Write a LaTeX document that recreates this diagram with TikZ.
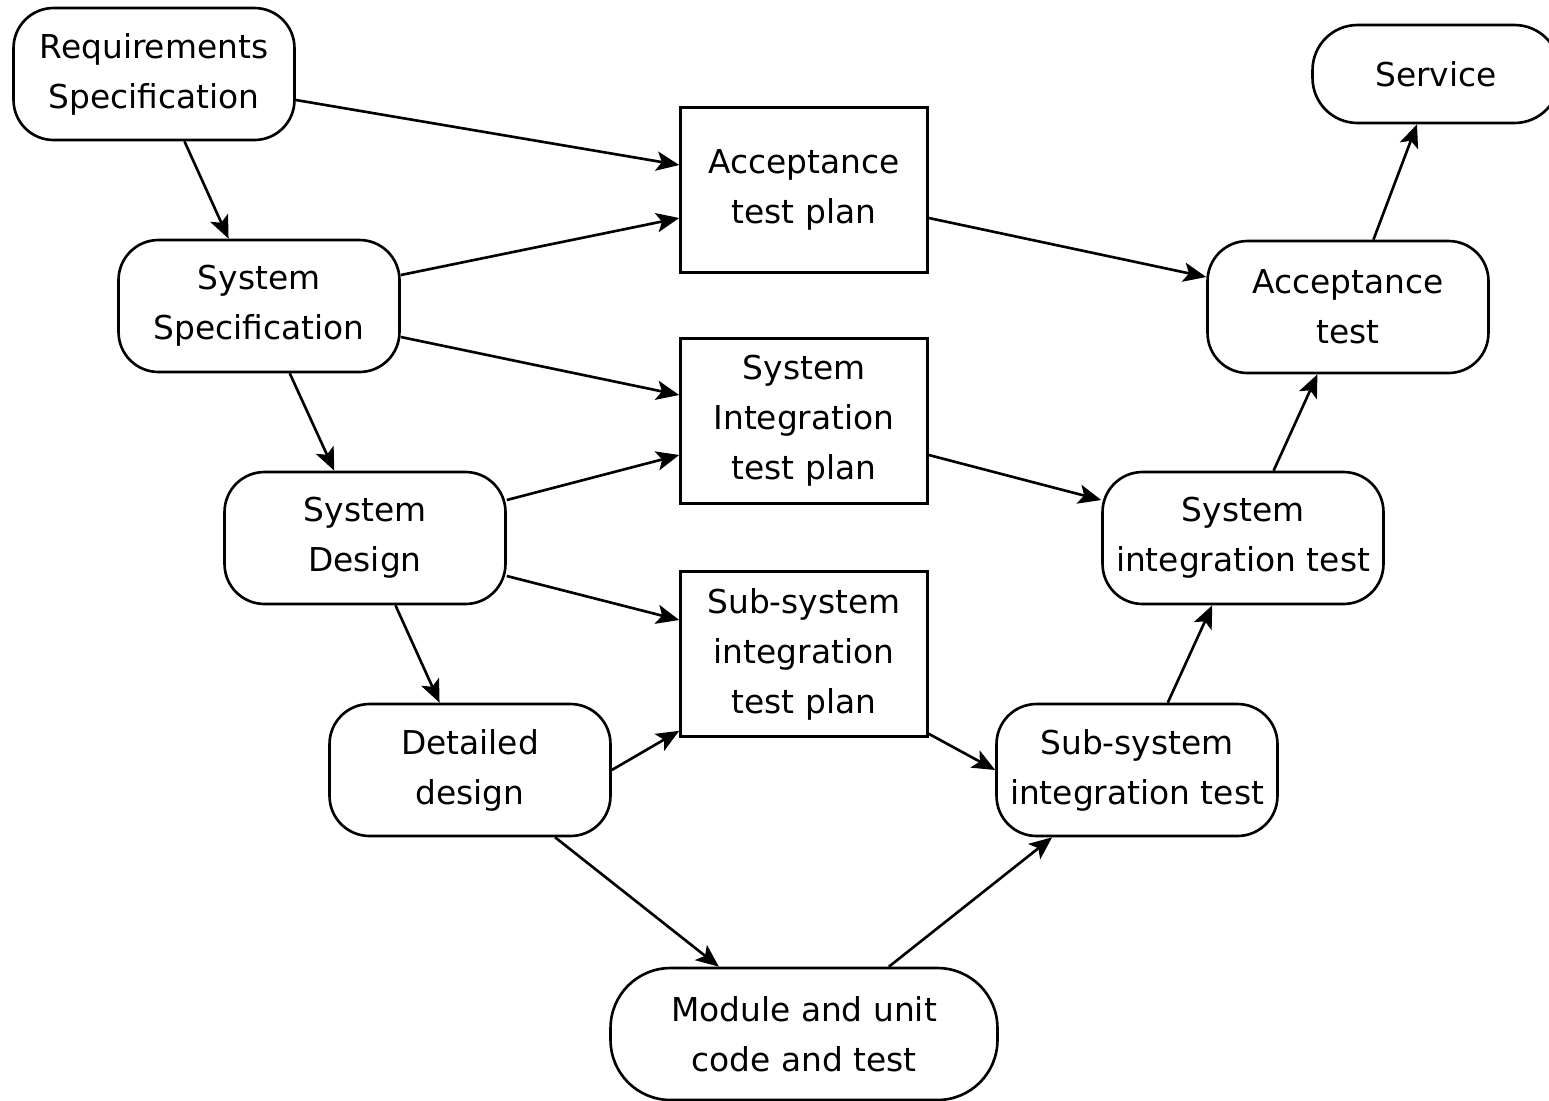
\documentclass[tikz,border=0pt]{standalone}
\usepackage{fontspec}
\setmainfont{DejaVu Sans}
\usepackage{tikz}
\usetikzlibrary{arrows.meta}
\tikzstyle{stage} = [rectangle, rounded corners=0.8cm, minimum width=5.62cm, minimum height=2.64cm, align=center, draw=black, line width=1.5pt, font=\fontsize{18.7}{28.5}\selectfont]
\tikzstyle{plan} = [rectangle, minimum width=4.94cm, minimum height=3.3cm, align=center, draw=black, line width=1.5pt, font=\fontsize{18.7}{28.5}\selectfont]
\tikzstyle{arrow} = [line width=1.5pt,-{Stealth[length=13pt,width=11pt,inset=3pt]}]

\begin{document}
\begin{tikzpicture}[x=0.02cm,y=-0.02cm]
\useasboundingbox (0,0) rectangle (1549,1100);
\node (reqspec) [stage] at (154,74) {Requirements\\Specification};
\node (sysspec) [stage] at (259,306) {System\\Specification};
\node (sysdesign) [stage] at (365,538) {System\\Design};
\node (detdesign) [stage] at (470,770) {Detailed\\design};
\node (module) [stage, minimum width=7.74cm, rounded corners=1.2cm] at (804,1034) {Module and unit\\code and test};
\node (subtest) [stage] at (1137,770) {Sub-system\\integration test};
\node (systest) [stage] at (1243,538) {System\\integration test};
\node (acctest) [stage] at (1348,307) {Acceptance\\test};
\node (service) [stage, minimum width=4.94cm, minimum height=1.96cm, rounded corners=0.9cm] at (1436,74) {Service};

\node (accplan) [plan] at (804,190) {Acceptance\\test plan};
\node (sysplan) [plan] at (804,421) {System\\Integration\\test plan};
\node (subplan) [plan] at (804,654) {Sub-system\\integration\\test plan};

% down the left side
\draw [arrow] (reqspec) -- (sysspec);
\draw [arrow] (sysspec) -- (sysdesign);
\draw [arrow] (sysdesign) -- (detdesign);
\draw [arrow] (detdesign) -- (module);

% up the right side
\draw [arrow] (module) -- (subtest);
\draw [arrow] (subtest) -- (systest);
\draw [arrow] (systest) -- (acctest);
\draw [arrow] (acctest) -- (service);

% into the test plans
\draw [arrow] ([yshift=-0.52cm]reqspec.east) -- ([yshift=0.5cm]accplan.west);
\draw [arrow] ([yshift=0.62cm]sysspec.east) -- ([yshift=-0.56cm]accplan.west);
\draw [arrow] ([yshift=-0.62cm]sysspec.east) -- ([yshift=0.52cm]sysplan.west);
\draw [arrow] ([yshift=0.76cm]sysdesign.east) -- ([yshift=-0.68cm]sysplan.west);
\draw [arrow] ([yshift=-0.76cm]sysdesign.east) -- ([yshift=0.68cm]subplan.west);
\draw [arrow] (detdesign.east) -- ([yshift=0.14cm]subplan.south west);

% out of the test plans
\draw [arrow] ([yshift=-0.56cm]accplan.east) -- ([yshift=0.6cm]acctest.west);
\draw [arrow] ([yshift=-0.68cm]sysplan.east) -- ([yshift=0.76cm]systest.west);
\draw [arrow] ([yshift=0.08cm]subplan.south east) -- (subtest.west);
\end{tikzpicture}
\end{document}
